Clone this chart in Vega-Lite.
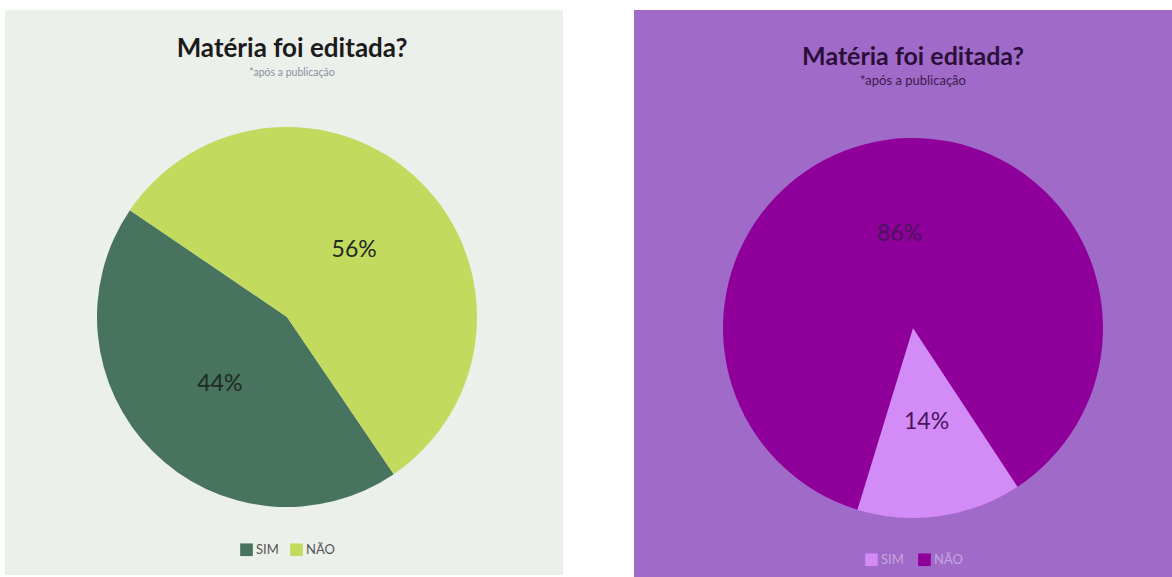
{
  "$schema": "https://vega.github.io/schema/vega-lite/v6.json",
  "background": "#ffffff",
  "padding": {"left": 5, "top": 10, "right": 0, "bottom": 0},
  "spacing": 71,
  "config": {
    "font": "Lato",
    "legend": {"padding": 0}
  },
  "resolve": {
    "scale": {"color": "independent", "theta": "independent"},
    "legend": {"color": "independent"}
  },
  "hconcat": [
    {
      "width": 558,
      "height": 565,
      "view": {"fill": "#ECF0EA", "stroke": null},
      "title": {
        "text": "Matéria foi editada?",
        "subtitle": "*após a publicação",
        "anchor": "middle",
        "offset": -68,
        "dx": 8,
        "font": "Lato",
        "fontSize": 26,
        "fontWeight": "bold",
        "color": "#1b1b1b",
        "subtitleFont": "Lato",
        "subtitleFontSize": 10.5,
        "subtitleColor": "#8790a4",
        "subtitlePadding": 6
      },
      "data": {"values": [
        {"resposta": "SIM", "pct": 44, "ordem": 1, "rotulo": "44%"},
        {"resposta": "NÃO", "pct": 56, "ordem": 2, "rotulo": "56%"}
      ]},
      "encoding": {
        "theta": {"field": "pct", "type": "quantitative", "stack": true, "scale": {"range": [2.545, 8.828]}},
        "order": {"field": "ordem", "type": "quantitative"}
      },
      "layer": [
        {
          "mark": {"type": "arc", "outerRadius": 190, "xOffset": 3, "yOffset": 24.5, "stroke": null},
          "encoding": {
            "color": {
              "field": "resposta", "type": "nominal",
              "scale": {"domain": ["SIM", "NÃO"], "range": ["#48735E", "#C2DA5E"]},
              "legend": {
                "title": null, "orient": "none", "direction": "horizontal",
                "legendX": 235, "legendY": 533,
                "symbolType": "square", "symbolSize": 160, "symbolStrokeWidth": 0,
                "labelFont": "Lato", "labelFontSize": 13, "labelColor": "#555555",
                "labelOffset": 3, "columnPadding": 11
              }
            }
          }
        },
        {
          "mark": {"type": "text", "radius": 95, "xOffset": 3, "yOffset": 24.5, "font": "Lato", "fontSize": 23, "color": "#1f2a22"},
          "encoding": {
            "detail": {"field": "resposta", "type": "nominal"},
            "text": {"field": "rotulo", "type": "nominal"}
          }
        }
      ]
    },
    {
      "width": 538,
      "height": 567,
      "view": {"fill": "#A06AC8", "stroke": null},
      "title": {
        "text": "Matéria foi editada?",
        "subtitle": "*após a publicação",
        "anchor": "middle",
        "offset": -78,
        "dx": 10,
        "font": "Lato",
        "fontSize": 25,
        "fontWeight": "bold",
        "color": "#2b0f3a",
        "subtitleFont": "Lato",
        "subtitleFontSize": 13,
        "subtitleColor": "#3d1a4d",
        "subtitlePadding": 5
      },
      "data": {"values": [
        {"resposta": "SIM", "pct": 14, "ordem": 1, "rotulo": "14%"},
        {"resposta": "NÃO", "pct": 86, "ordem": 2, "rotulo": "86%"}
      ]},
      "encoding": {
        "theta": {"field": "pct", "type": "quantitative", "stack": true, "scale": {"range": [2.559, 8.842]}},
        "order": {"field": "ordem", "type": "quantitative"}
      },
      "layer": [
        {
          "mark": {"type": "arc", "outerRadius": 190, "xOffset": 10, "yOffset": 34.5, "stroke": null},
          "encoding": {
            "color": {
              "field": "resposta", "type": "nominal",
              "scale": {"domain": ["SIM", "NÃO"], "range": ["#D38BF7", "#8E0099"]},
              "legend": {
                "title": null, "orient": "none", "direction": "horizontal",
                "legendX": 231, "legendY": 543,
                "symbolType": "square", "symbolSize": 160, "symbolStrokeWidth": 0,
                "labelFont": "Lato", "labelFontSize": 13, "labelColor": "#c4a6de",
                "labelOffset": 3, "columnPadding": 14
              }
            }
          }
        },
        {
          "mark": {"type": "text", "radius": 95, "xOffset": 10, "yOffset": 34.5, "font": "Lato", "fontSize": 23, "color": "#4a1460"},
          "encoding": {
            "detail": {"field": "resposta", "type": "nominal"},
            "text": {"field": "rotulo", "type": "nominal"}
          }
        }
      ]
    }
  ]
}
